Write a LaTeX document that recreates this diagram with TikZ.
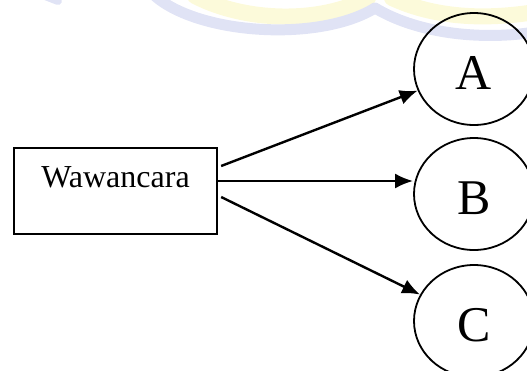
\documentclass[tikz,border=0pt]{standalone}
\usepackage{fontspec}
\setmainfont{Liberation Serif}
\usetikzlibrary{shapes.geometric,arrows.meta}
\definecolor{wmblue}{RGB}{224,227,245}
\definecolor{wmyellow}{RGB}{252,250,218}
\tikzset{
  wbox/.style={draw, line width=2.3pt, inner sep=0pt, minimum width=203pt,
    text height=39pt, text depth=47pt, font=\fontsize{32}{36}\selectfont, anchor=base},
  oval/.style={draw, ellipse, line width=1.8pt, inner sep=0pt, minimum width=120pt,
    minimum height=112pt, text height=41pt, text depth=0pt, font=\fontsize{50}{56}\selectfont},
  conn/.style={line width=2.4pt, -{Latex[length=18pt,width=15pt]}},
  wm/.style={line cap=round}
}
\begin{document}
\begin{tikzpicture}[x=1pt,y=-1pt]
\useasboundingbox (0,0) rectangle (527,370);
\clip (0,0) rectangle (527,370);
% faint watermark
\draw[wm, wmyellow, line width=16pt] (195,-4) .. controls (245,22) and (320,24) .. (368,-2);
\draw[wm, wmyellow, line width=16pt] (392,-2) .. controls (435,18) and (485,20) .. (535,12);
\draw[wm, wmblue, line width=11pt] (155,-4) .. controls (200,35) and (320,42) .. (375,8);
\draw[wm, wmblue, line width=11pt] (375,8) .. controls (420,35) and (485,40) .. (535,32);
\draw[wm, wmblue, line width=8pt] (40,-6) -- (58,1);
% diagram
\node[wbox] (box) at (115.5,187) {Wawancara};
\node[oval] (A) at (474,69) {A};
\node[oval] (B) at (474,194) {B};
\node[oval] (C) at (474,321) {C};
\coordinate (s1) at ([xshift=3pt,yshift=25pt]box.east);
\coordinate (s2) at ([xshift=0pt,yshift=10pt]box.east);
\coordinate (s3) at ([xshift=3pt,yshift=-6pt]box.east);
\draw[conn] (s1) -- (A);
\draw[conn] (s2) -- (s2 -| B.west);
\draw[conn] (s3) -- (C);
\end{tikzpicture}
\end{document}
